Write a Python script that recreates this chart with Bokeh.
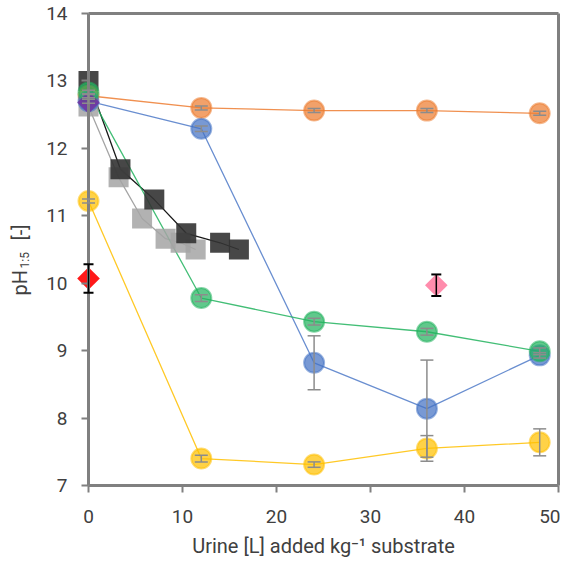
import math
from bokeh.plotting import figure
from bokeh.models import ColumnDataSource, Whisker, TeeHead, Range1d, Label
from bokeh.embed import file_html
from bokeh.resources import INLINE

# ---- data ----
urine_x = [0, 12, 24, 36, 48]
orange_y = [12.78, 12.60, 12.56, 12.56, 12.52]
orange_err = [0.03, 0.03, 0.03, 0.03, 0.03]
blue_y = [12.70, 12.29, 8.82, 8.14, 8.93]
blue_err = [0.03, 0.04, 0.40, 0.72, 0.04]
green_y = [12.83, 9.78, 9.43, 9.28, 8.99]
green_err = [0.03, 0.05, 0.05, 0.05, 0.05]
yellow_y = [11.22, 7.40, 7.31, 7.55, 7.64]
yellow_err = [0.03, 0.05, 0.04, 0.19, 0.20]

black_x = [0, 3.4, 7.0, 10.4, 14.0, 16.0]
black_y = [13.00, 11.69, 11.24, 10.74, 10.60, 10.50]
gray_x = [0, 3.2, 5.7, 8.2, 9.8, 11.4]
gray_y = [12.62, 11.57, 10.96, 10.66, 10.60, 10.50]

purple_x = [0]
purple_y = [12.68]
red_x = [0]
red_y = [10.07]
red_err = [0.21]
pink_x = [37]
pink_y = [9.97]
pink_err = [0.16]

x_min, x_max = 0, 50
y_min, y_max = 7, 14
x_ticks = [0, 10, 20, 30, 40, 50]
y_ticks = [7, 8, 9, 10, 11, 12, 13, 14]

FONT = "Roboto"
TXT = "#404040"
AX = "#808080"

W, H = 560, 559
# pixel geometry of the axes box inside the canvas
PX0, PX1, PY_TOP, PY_BOT = 88, 558, 13, 485
sx = (PX1 - PX0) / (x_max - x_min)
sy = (PY_BOT - PY_TOP) / (y_max - y_min)
xr = Range1d(x_min - PX0 / sx, x_max + (W - PX1) / sx)
yr = Range1d(y_min - (H - PY_BOT) / sy, y_max + PY_TOP / sy)


def dx(px):
    return x_min + (px - PX0) / sx


def dy(py):
    return y_max - (py - PY_TOP) / sy


p = figure(width=W, height=H, output_backend="svg", toolbar_location=None,
           x_range=xr, y_range=yr,
           min_border_left=0, min_border_right=0, min_border_top=0, min_border_bottom=0)
p.xgrid.visible = False
p.ygrid.visible = False
p.outline_line_color = None
p.background_fill_color = "white"
p.border_fill_color = "white"

for ax in (p.xaxis[0], p.yaxis[0]):
    ax.axis_line_color = AX
    ax.axis_line_width = 3
    ax.major_tick_line_color = AX
    ax.minor_tick_line_color = AX
    ax.major_tick_line_width = 2
    ax.minor_tick_line_width = 2
    ax.major_tick_in = 0
    ax.minor_tick_in = 0
    ax.major_tick_out = 7
    ax.minor_tick_out = 5
    ax.major_label_text_font = FONT
    ax.major_label_text_font_size = "19px"
    ax.major_label_text_color = TXT

p.yaxis.fixed_location = x_min
p.xaxis.fixed_location = y_min
p.xaxis.bounds = (x_min, x_max)
p.yaxis.bounds = (y_min, y_max)
p.xaxis.ticker = x_ticks
p.yaxis.ticker = y_ticks
p.xaxis[0].ticker.num_minor_ticks = 5
p.yaxis[0].ticker.num_minor_ticks = 5
p.xaxis.major_label_standoff = 17
p.yaxis.major_label_standoff = 14

# axis titles
p.add_layout(Label(x=(x_min + x_max) / 2, y=dy(545), text="Urine [L] added kg\u207b\u00b9 substrate",
                   text_font=FONT, text_font_size="20px", text_color=TXT,
                   text_align="center", text_baseline="middle"))
ylab_kw = dict(angle=math.pi / 2, text_font=FONT, text_color=TXT,
               text_align="left", text_baseline="middle")
p.add_layout(Label(x=dx(19), y=dy(295), text="pH", text_font_size="20px", **ylab_kw))
p.add_layout(Label(x=dx(24), y=dy(268), text="1:5", text_font_size="12px", **ylab_kw))
p.add_layout(Label(x=dx(19), y=dy(240), text="[-]", text_font_size="20px", **ylab_kw))

# top and right frame lines
p.segment(x0=[x_min, x_max], y0=[y_max, y_min], x1=[x_max, x_max], y1=[y_max, y_max],
          line_color=AX, line_width=3)

# ---- lines ----
LW = 1.3
p.line(gray_x, gray_y, line_color="#A5A5A5", line_width=LW)
p.line(black_x, black_y, line_color="#1a1a1a", line_width=LW)
p.line(urine_x, orange_y, line_color="#ED7D31", line_width=LW, line_alpha=0.85)
p.line(urine_x, blue_y, line_color="#4472C4", line_width=LW, line_alpha=0.8)
p.line(urine_x, yellow_y, line_color="#FFC000", line_width=LW, line_alpha=0.85)
p.line(urine_x, green_y, line_color="#22B35E", line_width=LW, line_alpha=0.85)

# ---- markers ----
p.scatter(gray_x, gray_y, marker="square", size=20, fill_color="#A5A5A5", fill_alpha=0.85,
          line_color=None)
p.scatter(black_x, black_y, marker="square", size=20, fill_color="#333333", fill_alpha=0.9,
          line_color=None)


def circles(y, err, color):
    src = ColumnDataSource(dict(x=urine_x, y=y,
                                lo=[a - b for a, b in zip(y, err)],
                                hi=[a + b for a, b in zip(y, err)]))
    p.scatter("x", "y", source=src, marker="circle", size=20, fill_color=color, fill_alpha=0.72,
              line_color=color, line_alpha=0.55, line_width=2)
    w = Whisker(source=src, base="x", lower="lo", upper="hi", line_color="#8c8c8c",
                line_width=1.5, level="annotation",
                upper_head=TeeHead(size=13, line_color="#8c8c8c", line_width=1.5),
                lower_head=TeeHead(size=13, line_color="#8c8c8c", line_width=1.5))
    p.add_layout(w)


circles(orange_y, orange_err, "#ED7D31")
circles(blue_y, blue_err, "#4472C4")
circles(yellow_y, yellow_err, "#FFC000")
circles(green_y, green_err, "#22B35E")

p.scatter(purple_x, purple_y, marker="square", angle=math.pi / 4, size=16,
          fill_color="#7030A0", fill_alpha=0.85, line_color=None)


def diamond(x, y, err, color, ecolor):
    src = ColumnDataSource(dict(x=x, y=y,
                                lo=[a - b for a, b in zip(y, err)],
                                hi=[a + b for a, b in zip(y, err)]))
    p.scatter("x", "y", source=src, marker="square", angle=math.pi / 4, size=16,
              fill_color=color, fill_alpha=0.9, line_color=None)
    w = Whisker(source=src, base="x", lower="lo", upper="hi", line_color=ecolor,
                line_width=1.5, level="annotation",
                upper_head=TeeHead(size=10, line_color=ecolor, line_width=2),
                lower_head=TeeHead(size=10, line_color=ecolor, line_width=2))
    p.add_layout(w)


diamond(red_x, red_y, red_err, "#FF0000", "#000000")
diamond(pink_x, pink_y, pink_err, "#FF7FA3", "#000000")

open("out.html", "w").write(file_html(p, INLINE))
